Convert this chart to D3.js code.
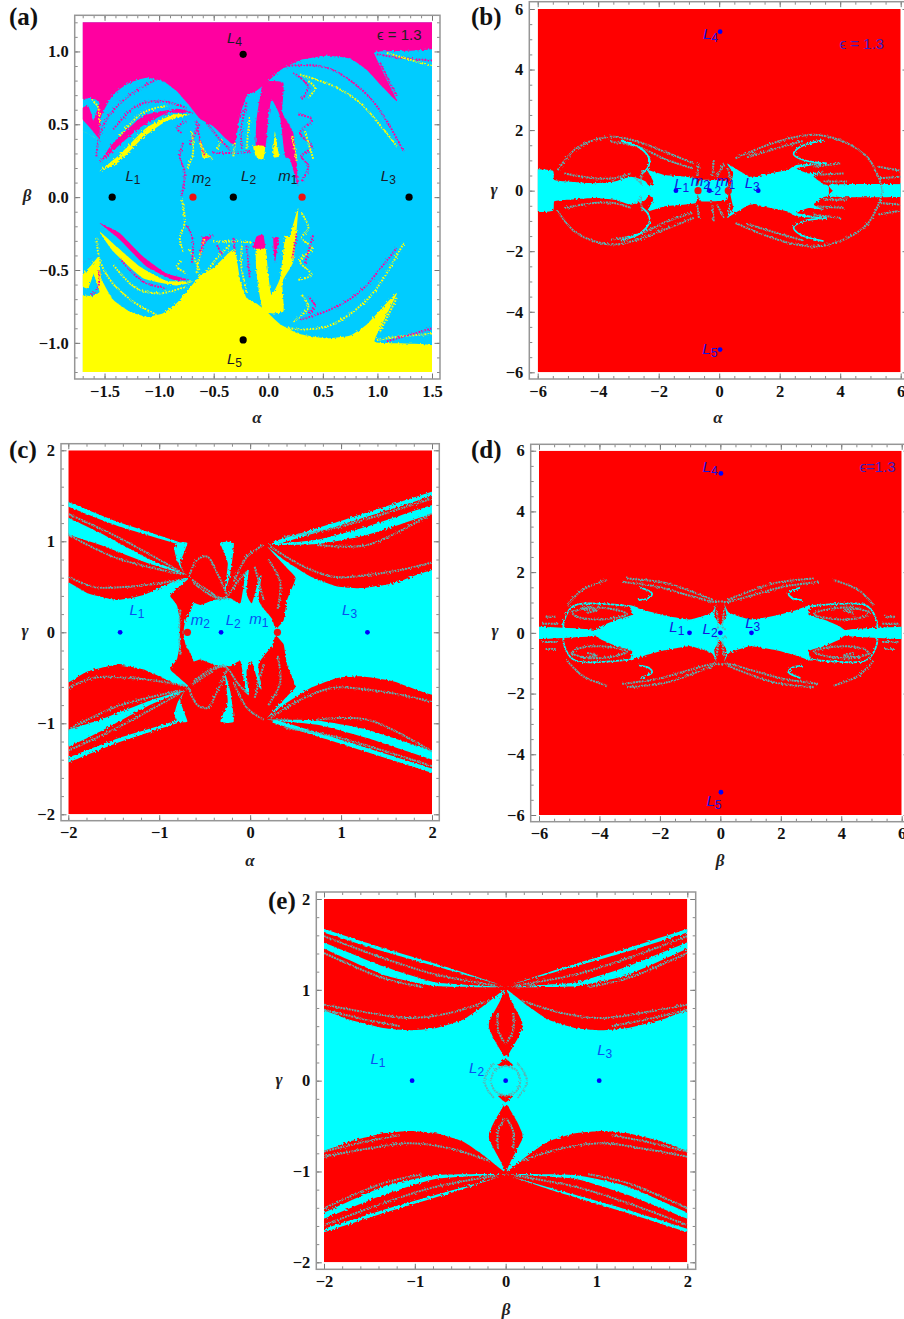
<!DOCTYPE html>
<html>
<head>
<meta charset="utf-8">
<script src="https://cdn.jsdelivr.net/npm/d3@7"></script>
<style>
  html, body { margin: 0; background: #fff; }
  svg { display: block; }
  .tick text { font-family: "Liberation Serif", serif; font-weight: bold; font-size: 16.5px; fill: #111; }
  .axis-name { font-family: "Liberation Serif", serif; font-style: italic; font-weight: bold; font-size: 17px; fill: #222; text-anchor: middle; }
  .panel-tag { font-family: "Liberation Serif", serif; font-weight: bold; font-size: 25px; fill: #111; }
  .pt-label { font-family: "Liberation Sans", sans-serif; font-style: italic; font-size: 15px; text-anchor: middle; }
  .eps { font-family: "Liberation Sans", sans-serif; font-size: 15px; text-anchor: middle; }
</style>
</head>
<body>
<div id="chart"></div>
<script>
const PINK = '#ff00a0', YELLOW = '#ffff00', SKY = '#00ccff';
const RED = '#ff0000', CYAN = '#00ffff', TEAL = '#58b4b4', BLUE = '#0000ff';

// ---- panel (a): alpha / beta, upper half, lower half is the mirror with pink and yellow swapped
const aPinkTop = [[-1.75,1.3],[1.55,1.3],[1.55,1.025],[1.01,1.0],[0.98,0.97],[1.18,0.66],[1.055,0.75],[0.9,0.875],[0.75,0.95],[0.535,0.97],[0.29,0.94],[0.107,0.87],[-0.015,0.785],[-0.107,0.73],[-0.2,0.69],[-0.26,0.555],[-0.305,0.36],[-0.38,0.395],[-0.505,0.487],[-0.627,0.538],[-0.72,0.625],[-0.84,0.728],[-0.963,0.796],[-1.116,0.82],[-1.27,0.785],[-1.42,0.705],[-1.53,0.556],[-1.55,0.407],[-1.605,0.51],[-1.545,0.648],[-1.62,0.68],[-1.75,0.7]];
const aPinkBlob = [[-0.045,0.785],[0.138,0.785],[0.13,0.58],[0.23,0.44],[0.275,0.075],[0.2,0.26],[0.153,0.28],[0.107,0.556],[0.03,0.67],[0,0.533],[-0.025,0.35],[-0.113,0.35],[-0.107,0.533]];
const aPinkBand = [[-1.545,0.236],[-1.42,0.373],[-1.147,0.556],[-0.84,0.606],[-0.688,0.579],[-0.933,0.574],[-1.177,0.476],[-1.39,0.339]];
const aPinkLeft = [[-1.75,0.58],[-1.65,0.625],[-1.55,0.407],[-1.62,0.465]];
const aYellowBand = [[-1.545,0.178],[-1.36,0.293],[-1.116,0.476],[-0.87,0.567],[-0.72,0.567],[-0.933,0.522],[-1.147,0.407],[-1.36,0.247]];
const aYellowTine1 = [[-0.138,0.35],[-0.03,0.35],[-0.046,0.26],[-0.107,0.27]];
const aYellowTine2 = [[0.046,0.28],[0.1,0.28],[0.08,0.36],[0.06,0.45]];
const aYellowTine3 = [[-0.63,0.42],[-0.58,0.3],[-0.52,0.28],[-0.6,0.27]];
const aYellowLeft = [[-1.75,0.476],[-1.56,0.396],[-1.69,0.45]];
const aPinkArcs = [
  [[0.076,0.888],[0.29,0.906],[0.535,0.888],[0.78,0.785],[0.994,0.625],[1.24,0.316]],
  [[-1.575,0.28],[-1.54,0.44],[-1.437,0.58],[-1.24,0.716],[-1.024,0.808]],
  [[-1.42,0.465],[-1.208,0.625],[-0.994,0.66],[-0.75,0.613]],
  [[0.23,0.854],[0.367,0.757],[0.306,0.67]],
  [[0.275,0.567],[0.4,0.533],[0.29,0.44],[0.4,0.35],[0.306,0.28],[0.367,0.213],[0.306,0.11]],
  [[0.994,0.98],[1.208,0.956],[1.5,0.938]],
  [[1.024,0.922],[1.177,0.693]],
  [[-0.795,0.44],[-0.84,0.476],[-0.75,0.52]],
  [[-0.78,0.373],[-0.81,0.28],[-0.765,0.167],[-0.795,0.007]],
  [[-0.657,0.52],[-0.627,0.396],[-0.58,0.28]],
  [[-0.566,0.51],[-0.443,0.396],[-0.35,0.327]],
  [[-0.505,0.304],[-0.32,0.304],[-0.15,0.31]],
  [[-0.72,0.36],[-0.68,0.42],[-0.63,0.5]],
  [[-0.2,0.65],[-0.25,0.45],[-0.24,0.33]]
];
const aYellowArcs = [
  [[0.29,0.842],[0.596,0.762],[0.84,0.648],[1.055,0.465],[1.177,0.35]],
  [[0.367,0.796],[0.428,0.75],[0.367,0.682]],
  [[1.086,0.99],[1.5,0.9]],
  [[-1.36,0.42],[-1.147,0.58],[-0.933,0.625]],
  [[-0.627,0.373],[-0.55,0.28],[-0.505,0.26]],
  [[-0.32,0.28],[-0.305,0.373]],
  [[0.336,0.453],[0.413,0.259]],
  [[-0.7,0.45],[-0.69,0.3],[-0.74,0.2]],
  [[-1.62,0.67],[-1.56,0.62],[-1.55,0.5]],
  [[-0.47,0.33],[-0.42,0.4]],
  [[-0.17,0.55],[-0.2,0.33]],
  [[0.22,0.42],[0.26,0.25]]
];

// ---- panel (b): alpha / gamma, upper half (outlines run a little under the axis so the halves overlap)
const bCyanLeft = [[-6.2,-0.2],[-6.2,0.68],[-5.5,0.66],[-5.45,0.35],[-5,0.3],[-4.13,0.24],[-3.47,0.3],[-2.92,0.46],[-2.43,0.3],[-2.4,-0.2]];
const bCyanMid = [[-2.26,-0.2],[-2.18,0.3],[-2.37,0.68],[-1.82,0.52],[-0.78,0.41],[-0.78,-0.2]];
const bCyanCenter = [[-0.67,-0.2],[-0.67,0.3],[-0.5,0.36],[0.26,0.3],[0.26,-0.2]];
const bCyanRight = [[0.46,-0.2],[0.46,0.57],[0.26,0.9],[1.03,0.46],[1.69,0.57],[2.24,0.68],[2.57,0.85],[3.56,0.92],[2.57,0.74],[2.96,0.57],[3.46,0.63],[3.12,0.46],[3.56,0.13],[3.5,-0.2]];
const bCyanFar = [[3.67,-0.2],[3.95,0.13],[4.66,0.17],[6.2,0.19],[6.2,-0.2]];
const bCurves = [
  [[-5.34,0.68],[-4.79,1.34],[-4.13,1.67],[-3.47,1.78],[-2.7,1.62],[-1.82,1.29],[-0.84,0.9]],
  [[-3.58,1.62],[-2.7,1.45],[-1.71,1.01],[-0.89,0.74]],
  [[-5.12,0.57],[-4.13,0.41],[-3.47,0.41],[-2.92,0.57]],
  [[0.54,1.07],[1.58,1.5],[2.46,1.76],[3.23,1.84],[4.11,1.62],[4.88,1.12],[5.26,0.46],[5.4,0]],
  [[0.92,1.1],[1.91,1.4],[2.79,1.65]],
  [[3.12,0.79],[4,0.9]],
  [[3.23,0.52],[4.11,0.57]],
  [[3.45,0.3],[4.22,0.3]],
  [[5.26,0.79],[6,0.66]],
  [[5.32,0.41],[6,0.46]],
  [[-0.18,1.01],[-0.23,0.46]],
  [[-0.67,0.9],[-0.73,0.46]],
  [[0.15,0.9],[-0.07,0.46]],
  [[0.3,0.72],[0.36,0.4]],
  [[-2.54,0.68],[-2.6,0.24]],
  [[-2.8,0.45],[-2.55,0.2]]
];
const bHooks = [
  [[-3.25,1.65],[-2.6,1.4],[-2.3,1.01],[-2.37,0.74],[-2.54,0.57]],
  [[3.45,1.67],[2.68,1.45],[2.46,1.21],[2.79,1.01],[3.56,0.9]]
];

// ---- panel (c): alpha / gamma, upper half
const cCyanLeft = [[-2.1,-0.05],[-2.1,0.58],[-1.79,0.43],[-1.46,0.356],[-1.17,0.41],[-0.84,0.557],[-0.675,0.594],[-0.86,0.43],[-0.877,0.39],[-0.8,0.28],[-0.82,-0.05]];
const cCyanCenter = [[-0.69,-0.05],[-0.71,0.136],[-0.657,0.227],[-0.62,0.32],[-0.547,0.3],[-0.4,0.356],[-0.217,0.374],[-0.106,0.32],[-0.05,0.65],[-0.015,0.686],[-0.04,0.43],[0.02,0.32],[0.1,0.6],[0.125,0.62],[0.09,0.36],[0.15,0.26],[0.24,0.15],[0.28,0.02],[0.29,-0.05]];
const cCyanRight = [[0.316,-0.05],[0.37,0.136],[0.407,0.356],[0.5,0.594],[0.407,0.704],[0.187,0.942],[0.37,0.796],[0.664,0.612],[0.958,0.502],[1.215,0.484],[1.58,0.54],[2.1,0.69],[2.1,-0.05]];
const cStripeThinL = [[-2.1,1.47],[-1.464,1.217],[-0.8,0.997],[-0.8,0.97],[-1.464,1.17],[-2.1,1.42]];
const cStripeWideL = [[-2.1,1.3],[-1.648,1.09],[-1.097,0.796],[-0.69,0.63],[-1.097,0.75],[-1.648,0.96],[-2.1,1.11]];
const cStripeWideR = [[0.187,0.96],[0.738,1.016],[1.288,1.162],[2.1,1.43],[2.1,1.34],[1.288,1.07],[0.738,0.97]];
const cStripeThinR = [[0.26,0.997],[0.92,1.2],[2.1,1.575],[2.1,1.53],[0.92,1.155],[0.3,0.97]];
const cSpikeL = [[-0.8,0.98],[-0.69,0.98],[-0.767,0.76],[-0.72,0.64],[-0.8,0.777],[-0.833,0.906]];
const cSpikeC = [[-0.327,0.98],[-0.18,0.98],[-0.217,0.65],[-0.283,0.43],[-0.246,0.76]];
const cCurves = [
  [[-2,0.612],[-1.72,0.5],[-1.354,0.5],[-0.987,0.54],[-0.71,0.587]],
  [[-2,1.07],[-1.464,0.814],[-0.767,0.64]],
  [[-2,1.3],[-1.464,1.05],[-0.767,0.667]],
  [[0.224,0.942],[0.554,0.74],[0.92,0.61],[1.288,0.63],[1.655,0.686],[2,0.766]],
  [[0.738,0.96],[1.288,0.96],[2,1.31]],
  [[0.37,1.05],[0.92,1.144],[2,1.47]],
  [[-0.675,0.612],[-0.583,0.796],[-0.473,0.832],[-0.363,0.65],[-0.253,0.41]],
  [[-0.638,0.576],[-0.473,0.466],[-0.29,0.374],[-0.125,0.576],[-0.033,0.667]],
  [[-0.18,0.557],[-0.033,0.832],[0.15,0.96]],
  [[-0.62,0.54],[-0.4,0.39],[-0.253,0.374]],
  [[-0.767,0.246],[-0.785,0.026]],
  [[0.2,0.8],[0.33,0.55],[0.3,0.25]],
  [[0.05,0.72],[0.15,0.35]]
];

// ---- panel (d): beta / gamma, one quadrant, mirrored on both axes
const dCyanMain = [[0.05,-0.2],[0.05,0.18],[-0.2,0.55],[-0.13,0.95],[-0.29,0.66],[-1,0.44],[-1.88,0.58],[-2.43,0.725],[-2.98,0.91],[-2.92,0.6],[-3.42,0.44],[-3.97,0.2],[-4.08,-0.1]];
const dBand = [[-6.2,-0.2],[-6.2,0.16],[-5.5,0.16],[-4.9,0.14],[-4.3,0.1],[-4.19,-0.1]];
const dCapLine = [[-5.18,0],[-5.18,0.36],[-4.96,0.8],[-4.68,0.945],[-3.75,0.945],[-2.98,0.88]];
const dHook = [[-2.65,1.49],[-2.26,1.3],[-2.37,1.15],[-2.7,1.08]];
const dCurves = [
  [[-4.93,0.69],[-4.3,0.835],[-3.42,0.75],[-3.09,0.615],[-3.97,0.44],[-4.79,0.55],[-4.93,0.69]],
  [[-4.63,0.8],[-4.08,0.75],[-4.41,0.66]],
  [[-5.07,0.91],[-4.57,1.41],[-3.75,1.74]],
  [[-3.25,1.68],[-2.1,1.52],[-1,1.22],[-0.23,1.02],[-0.03,1.04]],
  [[-3.09,1.79],[-1.77,1.63],[-0.23,1.08]],
  [[-5.78,0.53],[-5.45,0.53]],
  [[-5.89,0.3],[-5.34,0.3]],
  [[-0.12,0.75],[-0.066,0.25]],
  [[-0.18,0.1],[-0.05,0.2]]
];

// ---- panel (e): beta / gamma, one quadrant, mirrored on both axes
const eCyanMain = [[0.02,-0.05],[0.02,0.27],[-0.018,0.268],[-0.06,0.34],[-0.125,0.45],[-0.183,0.58],[-0.18,0.65],[-0.125,0.76],[-0.06,0.88],[-0.015,1],[-0.25,0.818],[-0.47,0.67],[-0.763,0.58],[-1.057,0.554],[-1.35,0.58],[-1.717,0.67],[-2.1,0.77],[-2.1,-0.05]];
const eCap = [[0,0.24],[-0.084,0.17],[-0.03,0.16],[0,0.17]];
const eStripeWide = [[-2.1,1.56],[-1.35,1.26],[-0.763,1.08],[0,1.03],[-0.763,1.04],[-1.35,1.167],[-2.1,1.5]];
const eStripeThin = [[-2.1,1.7],[-1.35,1.46],[-0.617,1.24],[-0.066,1.057],[-0.617,1.215],[-1.35,1.424],[-2.1,1.665]];
const eCurves = [
  [[-2,1.59],[-1.35,1.35],[-0.763,1.167],[-0.1,1.046]],
  [[-2,1.405],[-1.35,1.13],[-0.91,1.03]],
  [[-2,0.837],[-1.534,0.752],[-1.057,0.69],[-0.617,0.745],[-0.176,0.884]],
  [[-2,0.78],[-1.534,0.67],[-1.167,0.6]],
  [[-0.084,0.745],[-0.084,0.56],[-0.01,0.415]],
  [[0,0.165],[-0.117,0.117],[-0.165,0]],
  [[-0.13,0.19],[-0.2,0.1],[-0.24,0]]
];

// ---- points and labels: [name, subscript, x, y]
const aDots = [[-1.43,0],[-0.32,0],[1.29,0],[-0.23,0.98],[-0.23,-0.98]];
const aMasses = [[-0.69,0],[0.31,0]];
const aLabels = [['L','1',-1.24,0.145],['m','2',-0.61,0.13],['L','2',-0.18,0.145],['m','1',0.18,0.145],['L','3',1.1,0.145],['L','4',-0.31,1.09],['L','5',-0.31,-1.11]];
const bDots = [[-1.43,0],[-0.32,0],[1.29,0],[0.03,5.25],[0.03,-5.25]];
const bMasses = [[-0.7,0],[0.3,0]];
const bLabels = [['L','1',-1.24,0.21],['m','2',-0.62,0.33],['L','2',-0.18,0.13],['m','1',0.21,0.33],['L','3',1.09,0.24],['L','4',-0.29,5.19],['L','5',-0.31,-5.22]];
const cDots = [[-1.43,0],[-0.32,0],[1.29,0]];
const cMasses = [[-0.69,0],[0.3,0]];
const cLabels = [['L','1',-1.244,0.246],['m','2',-0.547,0.136],['L','2',-0.187,0.136],['m','1',0.095,0.143],['L','3',1.094,0.246]];
const dDots = [[-1.02,0],[0,0],[1.03,0],[0.02,5.25],[0.02,-5.25]];
const dLabels = [['L','1',-1.44,0.2],['L','2',-0.34,0.12],['L','3',1.07,0.34],['L','4',-0.34,5.45],['L','5',-0.21,-5.54]];
const eDots = [[-1.03,0],[0,0],[1.03,0]];
const eLabels = [['L','1',-1.405,0.24],['L','2',-0.32,0.14],['L','3',1.09,0.34]];

const ticks12 = [-6, -4, -2, 0, 2, 4, 6];
const ticks4 = [-2, -1, 0, 1, 2];
const ticksA = [-1.5, -1, -0.5, 0, 0.5, 1, 1.5];

const fmtA = d3.format('.1f');
const fmtInt = d3.format('d');
const specks = [TEAL, 2, '2 0.8'];

const panels = [
  {
    tag: '(a)', tagPos: [9, 25], frame: [74.7, 15.3, 440, 379], plot: [82.7, 22.3, 432, 372],
    xDomain: [-1.7, 1.5], yDomain: [-1.2, 1.2], xTicks: ticksA, yTicks: [-1, -0.5, 0, 0.5, 1], fmt: fmtA,
    xMinor: d3.range(-1.7, 1.51, 0.1), yMinor: d3.range(-1.2, 1.21, 0.1),
    xName: '\u03b1', yName: '\u03b2', xNamePos: [257, 423], yNamePos: [27, 201],
    base: SKY, mirrorX: false, swap: true,
    shapes: [[aPinkTop, PINK], [aPinkBlob, PINK], [aPinkBand, PINK], [aPinkLeft, PINK], [aYellowBand, YELLOW], [aYellowTine1, YELLOW], [aYellowTine2, YELLOW], [aYellowTine3, YELLOW], [aYellowLeft, YELLOW]],
    curves: aPinkArcs.map(c => [c, PINK, 2, '1.8 1.2']).concat(aYellowArcs.map(c => [c, YELLOW, 2, '1.8 1.2'])),
    dots: aDots, dotColor: '#000', dotR: 3.6, masses: aMasses, massR: 3.6,
    labels: aLabels, labelColor: '#1a1a2a', eps: ['\u03f5 = 1.3', 1.2, 1.115], epsColor: '#222'
  },
  {
    tag: '(b)', tagPos: [471, 25], frame: [529.3, 1.7, 908, 379], plot: [537.7, 9, 900.7, 372.3],
    xDomain: [-6, 6], yDomain: [-6, 6], xTicks: ticks12, yTicks: ticks12, fmt: fmtInt,
    xMinor: d3.range(-6, 6.01, 0.5), yMinor: d3.range(-6, 6.01, 0.5),
    xName: '\u03b1', yName: '\u03b3', xNamePos: [718, 423], yNamePos: [494, 195],
    base: RED, mirrorX: false, swap: false,
    shapes: [[bCyanLeft, CYAN], [bCyanMid, CYAN], [bCyanCenter, CYAN], [bCyanRight, CYAN], [bCyanFar, CYAN]],
    curves: bCurves.map(c => [c, ...specks]).concat(bHooks.map(c => [c, CYAN, 1.7, null])),
    dots: bDots, dotColor: BLUE, dotR: 2.4, masses: bMasses, massR: 3.6,
    labels: bLabels, labelColor: '#1515e0', eps: ['\u03f5 = 1.3', 4.71, 4.86], epsColor: '#3a1fc0'
  },
  {
    tag: '(c)', tagPos: [9, 458], frame: [61, 443.7, 439.3, 820.7], plot: [68.3, 450.3, 432, 814.3],
    xDomain: [-2, 2], yDomain: [-2, 2], xTicks: ticks4, yTicks: ticks4, fmt: fmtInt,
    xMinor: d3.range(-2, 2.01, 0.2), yMinor: d3.range(-2, 2.01, 0.2),
    xName: '\u03b1', yName: '\u03b3', xNamePos: [250, 866], yNamePos: [25, 636],
    base: RED, mirrorX: false, swap: false,
    shapes: [[cCyanLeft, CYAN], [cCyanCenter, CYAN], [cCyanRight, CYAN], [cStripeThinL, CYAN], [cStripeWideL, CYAN], [cStripeWideR, CYAN], [cStripeThinR, CYAN], [cSpikeL, CYAN], [cSpikeC, CYAN]],
    curves: cCurves.map(c => [c, ...specks]),
    dots: cDots, dotColor: BLUE, dotR: 2.4, masses: cMasses, massR: 3.6,
    labels: cLabels, labelColor: '#0a50f0'
  },
  {
    tag: '(d)', tagPos: [471, 458], frame: [530.7, 444.3, 909, 821.7], plot: [539, 450.7, 901.7, 815],
    xDomain: [-6, 6], yDomain: [-6, 6], xTicks: ticks12, yTicks: ticks12, fmt: fmtInt,
    xMinor: d3.range(-6, 6.01, 0.5), yMinor: d3.range(-6, 6.01, 0.5),
    xName: '\u03b2', yName: '\u03b3', xNamePos: [720, 866], yNamePos: [495, 636],
    base: RED, mirrorX: true, swap: false,
    shapes: [[dCyanMain, CYAN], [dBand, CYAN]],
    curves: dCurves.map(c => [c, ...specks]).concat([[dCapLine, CYAN, 1.8, '4 0.5'], [dHook, CYAN, 1.8, null]]),
    dots: dDots, dotColor: BLUE, dotR: 2.4, masses: [], massR: 0,
    labels: dLabels, labelColor: '#1515e0', eps: ['\u03f5=1.3', 5.2, 5.47], epsColor: '#3a1fc0'
  },
  {
    tag: '(e)', tagPos: [268, 909], frame: [316.3, 892, 695.7, 1269.3], plot: [324, 899, 687.3, 1262.3],
    xDomain: [-2, 2], yDomain: [-2, 2], xTicks: ticks4, yTicks: ticks4, fmt: fmtInt,
    xMinor: d3.range(-2, 2.01, 0.2), yMinor: d3.range(-2, 2.01, 0.2),
    xName: '\u03b2', yName: '\u03b3', xNamePos: [506, 1315], yNamePos: [279, 1085],
    base: RED, mirrorX: true, swap: false,
    shapes: [[eCyanMain, CYAN], [eStripeWide, CYAN], [eStripeThin, CYAN]],
    overShapes: [[eCap, RED]],
    curves: eCurves.map(c => [c, ...specks]),
    dots: eDots, dotColor: BLUE, dotR: 2.4, masses: [], massR: 0,
    labels: eLabels, labelColor: '#0a50f0'
  }
];

const svg = d3.select('#chart').append('svg')
  .attr('width', 904)
  .attr('height', 1319);

// rough pixel-like edge on the basin boundaries
const filter = svg.append('defs').append('filter')
  .attr('id', 'rough')
  .attr('x', '-5%').attr('y', '-5%').attr('width', '110%').attr('height', '110%');
filter.append('feTurbulence')
  .attr('type', 'fractalNoise').attr('baseFrequency', 0.5).attr('numOctaves', 1).attr('seed', 3).attr('result', 'n');
filter.append('feDisplacementMap')
  .attr('in', 'SourceGraphic').attr('in2', 'n').attr('scale', 3.2).attr('result', 'd');
filter.append('feGaussianBlur')
  .attr('in', 'd').attr('stdDeviation', 0.35);

function swapColor(c) {
  if (c === PINK) return YELLOW;
  if (c === YELLOW) return PINK;
  return c;
}

function drawAxes(g, p, x, y) {
  const [fl, ft, fr, fb] = p.frame;

  const sides = [
    { gen: () => d3.axisBottom(x), at: `translate(0,${fb})`, ticks: p.xTicks, minor: p.xMinor, text: true },
    { gen: () => d3.axisTop(x), at: `translate(0,${ft})`, ticks: p.xTicks, minor: p.xMinor, text: false },
    { gen: () => d3.axisLeft(y), at: `translate(${fl},0)`, ticks: p.yTicks, minor: p.yMinor, text: true },
    { gen: () => d3.axisRight(y), at: `translate(${fr},0)`, ticks: p.yTicks, minor: p.yMinor, text: false }
  ];

  sides.forEach(side => {
    // Minor ticks first, the major axis goes over them
    g.append('g')
      .attr('transform', side.at)
      .call(side.gen().tickValues(side.minor).tickSizeInner(-3).tickSizeOuter(0).tickFormat(''))
      .call(a => a.select('.domain').remove())
      .call(a => a.selectAll('line').attr('stroke', '#8a8a8a'));

    g.append('g')
      .attr('transform', side.at)
      .call(side.gen().tickValues(side.ticks).tickSizeInner(-5.5).tickSizeOuter(0).tickPadding(6)
        .tickFormat(side.text ? p.fmt : ''))
      .call(a => a.select('.domain').remove())
      .call(a => a.selectAll('line').attr('stroke', '#777'));
  });

  g.append('rect')
    .attr('x', fl).attr('y', ft)
    .attr('width', fr - fl).attr('height', fb - ft)
    .attr('fill', 'none')
    .attr('stroke', '#969696')
    .attr('stroke-width', 1.5);
}

panels.forEach((p, i) => {
  const [pl, pt, pr, pb] = p.plot;
  const x = d3.scaleLinear().domain(p.xDomain).range([pl, pr]);
  const y = d3.scaleLinear().domain(p.yDomain).range([pb, pt]);
  const g = svg.append('g').attr('class', 'panel');

  g.append('clipPath').attr('id', 'clip-' + i)
    .append('rect')
    .attr('x', pl).attr('y', pt)
    .attr('width', pr - pl).attr('height', pb - pt);

  const plot = g.append('g').attr('clip-path', `url(#clip-${i})`);
  plot.append('rect')
    .attr('x', pl).attr('y', pt)
    .attr('width', pr - pl).attr('height', pb - pt)
    .attr('fill', p.base);

  const basins = plot.append('g').attr('filter', 'url(#rough)');

  // Every outline is drawn as read and again reflected
  const flips = [[1, 1, false], [1, -1, p.swap]];
  if (p.mirrorX) flips.push([-1, 1, false], [-1, -1, false]);

  const area = d3.line().x(d => x(d[0])).y(d => y(d[1])).curve(d3.curveCardinalClosed.tension(0.55));
  const curve = d3.line().x(d => x(d[0])).y(d => y(d[1])).curve(d3.curveCatmullRom.alpha(0.5));

  // Basins first, in all quadrants, so that a later reflection cannot hide what goes on top
  [p.shapes, p.overShapes || []].forEach(list => {
    flips.forEach(([fx, fy, swapped]) => {
      list.forEach(([pts, color]) => {
        basins.append('path')
          .attr('d', area(pts.map(d => [d[0] * fx, d[1] * fy])))
          .attr('fill', swapped ? swapColor(color) : color);
      });
    });
  });
  flips.forEach(([fx, fy, swapped]) => {
    p.curves.forEach(([pts, color, width, dash]) => {
      basins.append('path')
        .attr('d', curve(pts.map(d => [d[0] * fx, d[1] * fy])))
        .attr('fill', 'none')
        .attr('stroke', swapped ? swapColor(color) : color)
        .attr('stroke-width', width)
        .attr('stroke-dasharray', dash);
    });
  });

  drawAxes(g, p, x, y);

  // Equilibrium points and primaries
  g.selectAll('circle.mass').data(p.masses).join('circle')
    .attr('class', 'mass')
    .attr('cx', d => x(d[0])).attr('cy', d => y(d[1]))
    .attr('r', p.massR).attr('fill', '#f01010');
  g.selectAll('circle.dot').data(p.dots).join('circle')
    .attr('class', 'dot')
    .attr('cx', d => x(d[0])).attr('cy', d => y(d[1]))
    .attr('r', p.dotR).attr('fill', p.dotColor);

  const labels = g.selectAll('text.pt-label').data(p.labels).join('text')
    .attr('class', 'pt-label')
    .attr('x', d => x(d[2])).attr('y', d => y(d[3]) + 5)
    .attr('fill', p.labelColor);
  labels.append('tspan').text(d => d[0]);
  labels.append('tspan')
    .attr('dy', 3).attr('font-size', 12).attr('font-style', 'normal')
    .text(d => d[1]);

  if (p.eps) {
    g.append('text').attr('class', 'eps')
      .attr('x', x(p.eps[1])).attr('y', y(p.eps[2]) + 5)
      .attr('fill', p.epsColor)
      .text(p.eps[0]);
  }

  g.append('text').attr('class', 'panel-tag')
    .attr('x', p.tagPos[0]).attr('y', p.tagPos[1]).text(p.tag);
  g.append('text').attr('class', 'axis-name')
    .attr('x', p.xNamePos[0]).attr('y', p.xNamePos[1]).text(p.xName);
  g.append('text').attr('class', 'axis-name')
    .attr('x', p.yNamePos[0]).attr('y', p.yNamePos[1]).text(p.yName);
});
</script>
</body>
</html>
